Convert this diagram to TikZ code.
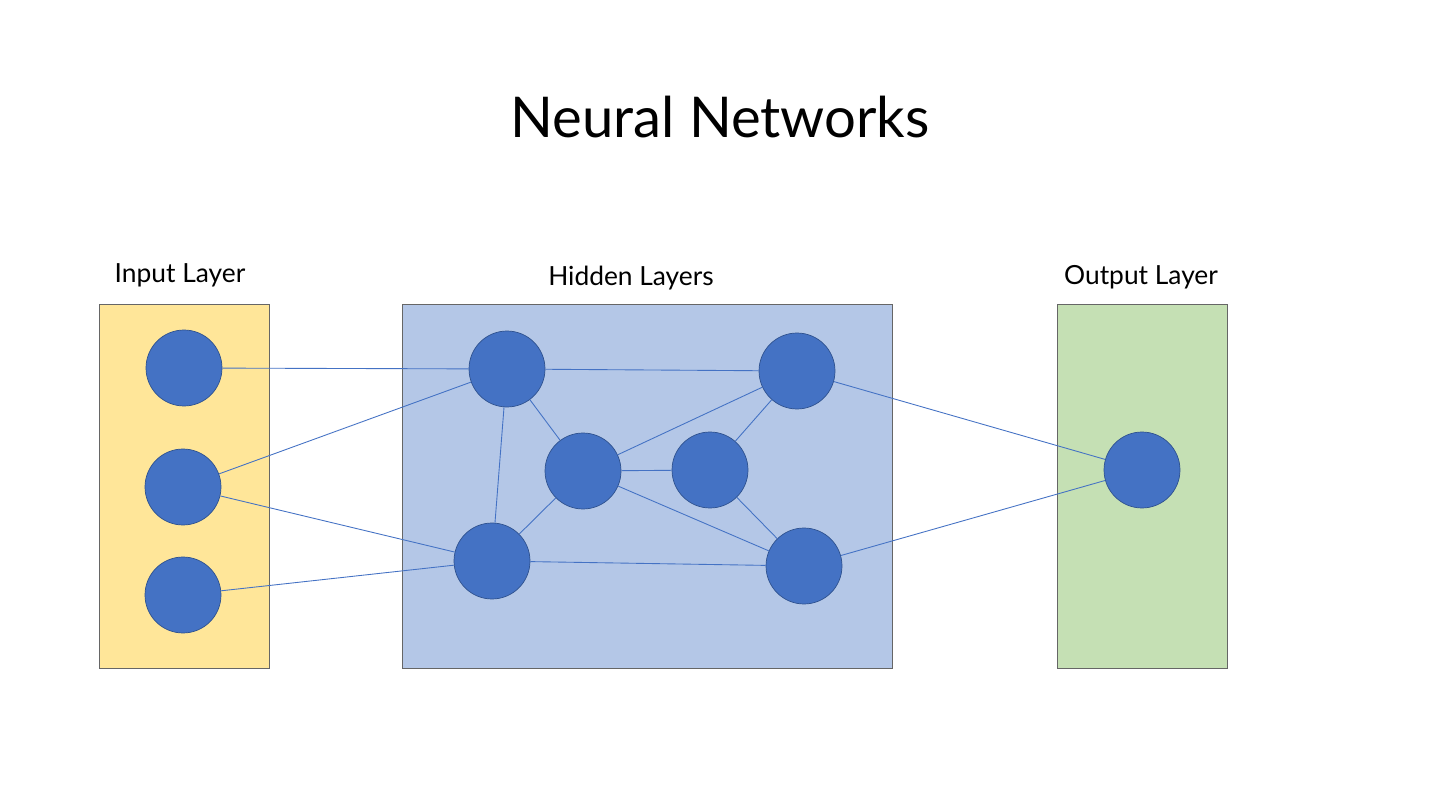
\documentclass[tikz,border=0pt]{standalone}
\usepackage{fontspec}
\setmainfont{Lato}
\usepackage{tikz}
\definecolor{nodeblue}{HTML}{4472C4}
\definecolor{nodeedge}{HTML}{2F528F}
\definecolor{inyellow}{HTML}{FFE699}
\definecolor{hidblue}{HTML}{B4C7E7}
\definecolor{outgreen}{HTML}{C5E0B4}
\tikzset{
	neuron/.style={shape=circle,fill=nodeblue,draw=nodeedge,minimum size=1.52cm,inner sep=0pt},
	layer/.style={draw=black!60,line width=0.4pt},
	link/.style={draw=nodeblue,line width=0.5pt},
	caption/.style={font=\fontsize{15}{18}\selectfont}
}
\begin{document}
\begin{tikzpicture}[x=0.02cm,y=-0.02cm]
	\useasboundingbox (0,0) rectangle (1440,810);

	\node[font=\fontsize{32}{38}\selectfont] (title) at (720,117) {Neural Networks};

	\draw[layer,fill=inyellow] (99,304) rectangle (269,668);
	\draw[layer,fill=hidblue] (402,304) rectangle (892,668);
	\draw[layer,fill=outgreen] (1057,304) rectangle (1227,668);

	\node[caption] (lin) at (180,275) {Input Layer};
	\node[caption] (lhid) at (631,278) {Hidden Layers};
	\node[caption] (lout) at (1141,277) {Output Layer};

	\node[neuron] (i1) at (184,368) {};
	\node[neuron] (i2) at (183,487) {};
	\node[neuron] (i3) at (183,595) {};

	\node[neuron] (h1) at (507,369) {};
	\node[neuron] (h2) at (583,471) {};
	\node[neuron] (h3) at (492,561) {};
	\node[neuron] (h4) at (710,470) {};
	\node[neuron] (h5) at (797,371) {};
	\node[neuron] (h6) at (804,566) {};

	\node[neuron] (o1) at (1142,470) {};

	\path[link] (i1) edge (h1);
	\path[link] (i2) edge (h1);
	\path[link] (i2) edge (h3);
	\path[link] (i3) edge (h3);
	\path[link] (h1) edge (h5);
	\path[link] (h1) edge (h2);
	\path[link] (h1) edge (h3);
	\path[link] (h3) edge (h2);
	\path[link] (h2) edge (h5);
	\path[link] (h2) edge (h4);
	\path[link] (h2) edge (h6);
	\path[link] (h4) edge (h5);
	\path[link] (h4) edge (h6);
	\path[link] (h3) edge (h6);
	\path[link] (h5) edge (o1);
	\path[link] (h6) edge (o1);

\end{tikzpicture}
\end{document}
